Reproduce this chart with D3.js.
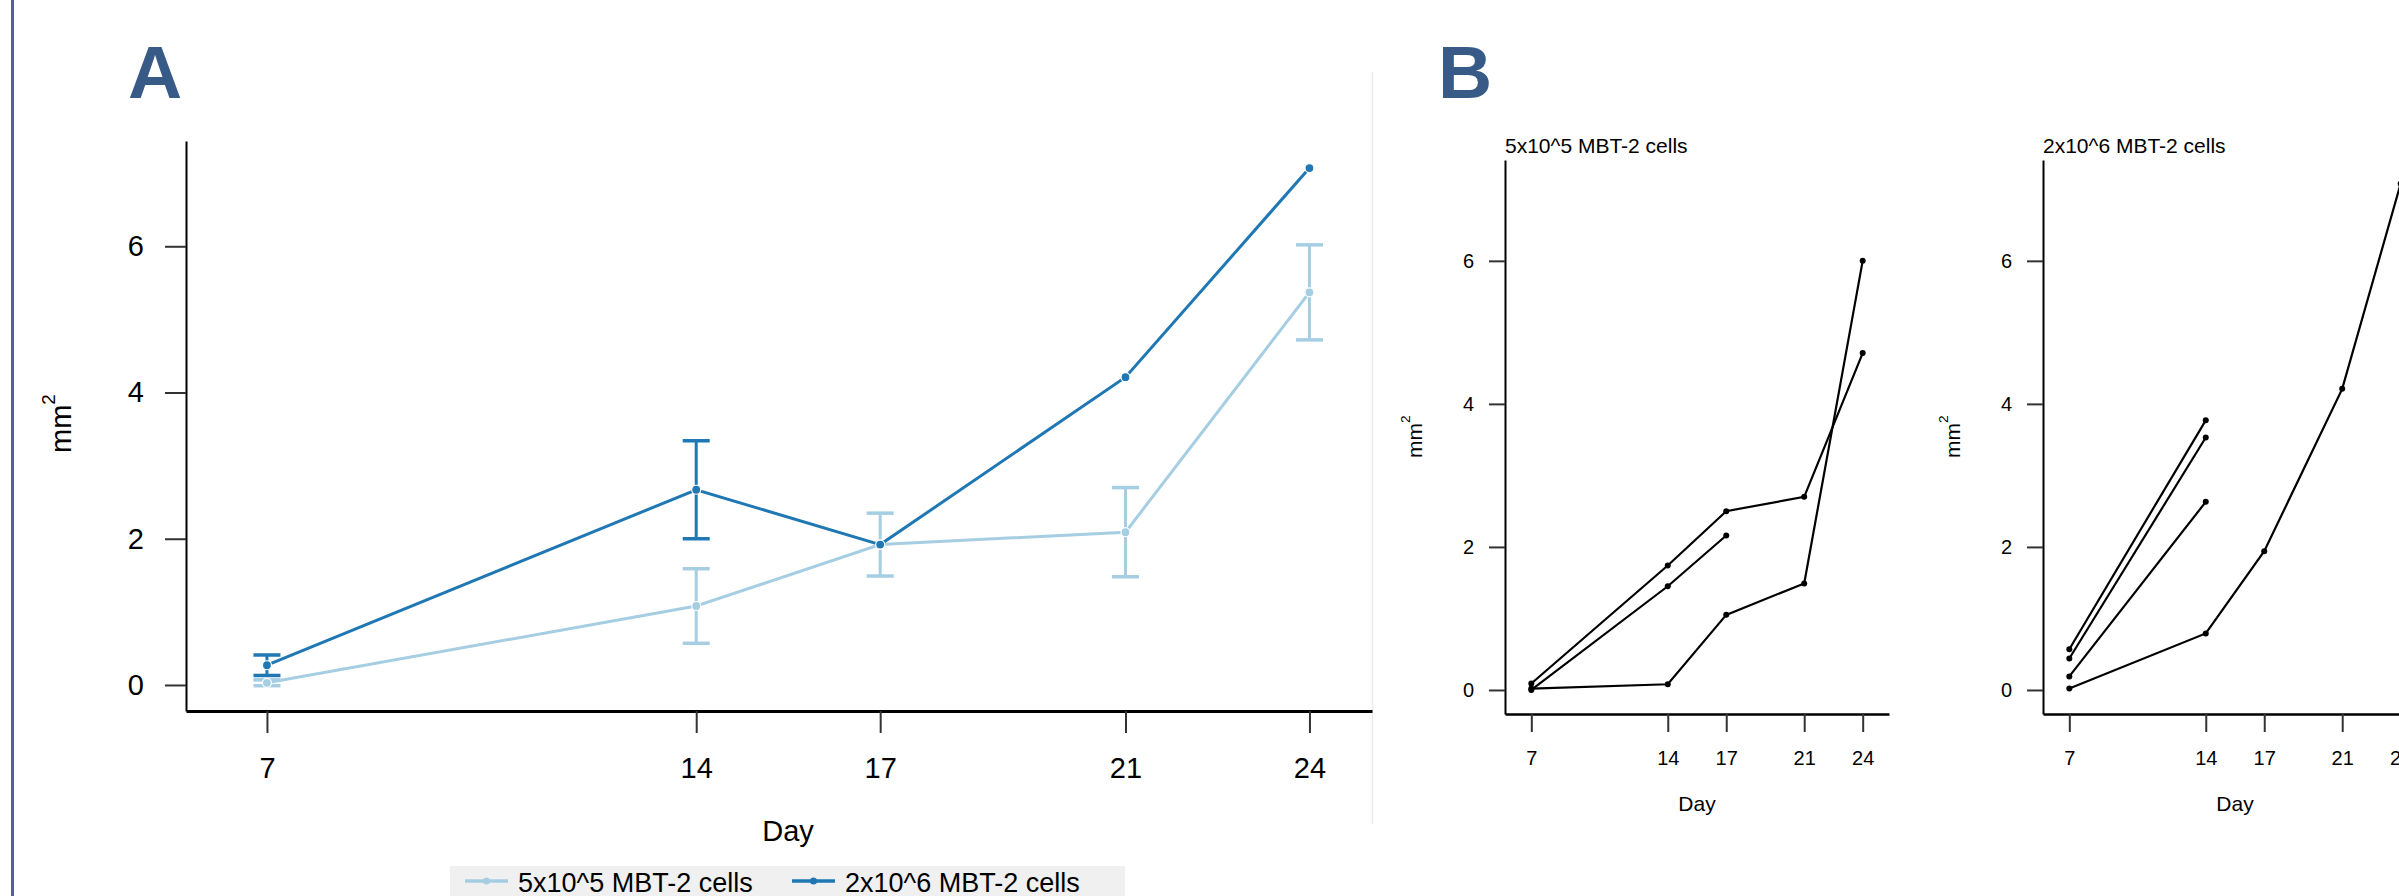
<html>
<meta charset="utf-8">
<style>
body { margin: 0; background: #fff; }
text { font-family: "Liberation Sans", Arial, sans-serif; fill: #000; }
.domain { stroke: #000; }
.tick line { stroke: #333; stroke-width: 2px; }
</style>
<body>
<script src="https://d3js.org/d3.v7.min.js"></script>
<script>

// data
var days = [7, 14, 17, 21, 24];
var areaTicks = [0, 2, 4, 6];
var groups = ["5x10^5 MBT-2 cells", "2x10^6 MBT-2 cells"];

// panel A: means and error bars
var lowMean  = [0.03, 1.08, 1.92, 2.09, 5.37];
var lowErr   = [0.04, 0.51, 0.43, 0.61, 0.65];
var highMean = [0.27, 2.67, 1.92, 4.21, 7.07];
var highErr  = [0.14, 0.67, 0, 0, 0];

// panel B: single animals (null = not measured)
var lowMouse1 = [0.09, 1.74, 2.50, 2.70, 4.71];
var lowMouse2 = [0.00, 1.45, 2.16, null, null];
var lowMouse3 = [0.02, 0.08, 1.05, 1.49, 6.00];
var highMouse1 = [0.57, 3.77, null, null, null];
var highMouse2 = [0.44, 3.53, null, null, null];
var highMouse3 = [0.19, 2.63, null, null, null];
var highMouse4 = [0.02, 0.79, 1.94, 4.21, 7.08];

var colors = ["#a6cee3", "#1f78b4"];

var svg = d3.select("body").append("svg")
    .attr("width", 2399)
    .attr("height", 896);

svg.append("rect").attr("width", 2399).attr("height", 896).attr("fill", "#fff");

// left page border and divider
svg.append("line").attr("x1", 12.5).attr("x2", 12.5).attr("y1", 0).attr("y2", 896)
    .attr("stroke", "#47669d").attr("stroke-width", 3);
svg.append("line").attr("x1", 1372.5).attr("x2", 1372.5).attr("y1", 72).attr("y2", 824)
    .attr("stroke", "#ebebeb").attr("stroke-width", 1.5);

// panel letters
svg.append("text").attr("x", 128).attr("y", 98).text("A")
    .style("font-size", "75px").style("font-weight", "bold").style("fill", "#375a87");
svg.append("text").attr("x", 1438).attr("y", 98).text("B")
    .style("font-size", "75px").style("font-weight", "bold").style("fill", "#375a87");

function pairs(vals) {
  return days.map(function(d, i) { return {day: d, v: vals[i], i: i}; })
             .filter(function(p) { return p.v !== null; });
}

function yLabel(g, x, y, size) {
  var t = g.append("text")
      .attr("transform", "translate(" + x + "," + y + ") rotate(-90)")
      .style("font-size", size + "px");
  t.append("tspan").text("mm");
  t.append("tspan").attr("dy", -size * 0.55).style("font-size", (size * 0.65) + "px").text("2");
}

// ---------------- panel A ----------------
var xA = d3.scaleLinear().domain([5.68, 25.02]).range([186, 1372]);
var yA = d3.scaleLinear().domain([-0.356, 7.44]).range([711, 141]);

var axA = svg.append("g")
    .attr("transform", "translate(0,711)")
    .call(d3.axisBottom(xA).tickValues(days).tickSize(22).tickSizeOuter(0).tickPadding(24));
axA.select(".domain").attr("stroke-width", 3);
axA.selectAll("text").style("font-size", "29px");

var ayA = svg.append("g")
    .attr("transform", "translate(186,0)")
    .call(d3.axisLeft(yA).tickValues(areaTicks).tickSize(21).tickSizeOuter(0).tickPadding(21));
ayA.select(".domain").attr("stroke-width", 2);
ayA.selectAll("text").style("font-size", "29px");

svg.append("text").attr("x", 788).attr("y", 841).attr("text-anchor", "middle")
    .style("font-size", "29px").text("Day");
yLabel(svg, 71, 453, 29);

var lineA = d3.line()
    .x(function(d) { return xA(d.day); })
    .y(function(d) { return yA(d.v); });

[[lowMean, lowErr], [highMean, highErr]].forEach(function(s, k) {
  var pts = pairs(s[0]);
  var col = colors[k];
  var g = svg.append("g");
  g.append("path").datum(pts).attr("d", lineA)
      .attr("fill", "none").attr("stroke", col).attr("stroke-width", 3);
  pts.forEach(function(p) {
    var e = s[1][p.i];
    if (!e) return;
    var x = xA(p.day);
    g.append("line").attr("x1", x).attr("x2", x).attr("y1", yA(p.v - e)).attr("y2", yA(p.v + e))
        .attr("stroke", col).attr("stroke-width", 3);
    [p.v - e, p.v + e].forEach(function(v) {
      g.append("line").attr("x1", x - 13.5).attr("x2", x + 13.5).attr("y1", yA(v)).attr("y2", yA(v))
          .attr("stroke", col).attr("stroke-width", 3.5);
    });
  });
  g.selectAll("circle").data(pts).enter().append("circle")
      .attr("cx", function(d) { return xA(d.day); })
      .attr("cy", function(d) { return yA(d.v); })
      .attr("r", 4.5)
      .attr("fill", col).attr("stroke", "#fff").attr("stroke-width", 1.2);
});

// legend
svg.append("rect").attr("x", 450).attr("y", 866).attr("width", 675).attr("height", 40).attr("fill", "#f0f0f0");
var legX = [465, 792];
groups.forEach(function(name, k) {
  svg.append("line").attr("x1", legX[k]).attr("x2", legX[k] + 43).attr("y1", 881).attr("y2", 881)
      .attr("stroke", colors[k]).attr("stroke-width", 3.5);
  svg.append("circle").attr("cx", legX[k] + 21.5).attr("cy", 881).attr("r", 3.5).attr("fill", colors[k]);
  svg.append("text").attr("x", legX[k] + 53).attr("y", 892).style("font-size", "27px").text(name);
});

// ---------------- panel B ----------------
var yB = d3.scaleLinear().domain([-0.336, 7.41]).range([714, 160]);
var panelsB = [
  {left: 1505, title: groups[0], mice: [lowMouse1, lowMouse2, lowMouse3]},
  {left: 2043, title: groups[1], mice: [highMouse1, highMouse2, highMouse3, highMouse4]}
];

panelsB.forEach(function(pb) {
  var x = d3.scaleLinear().domain([5.65, 25.35]).range([pb.left, pb.left + 384]);
  var ax = svg.append("g")
      .attr("transform", "translate(0,714)")
      .call(d3.axisBottom(x).tickValues(days).tickSize(18).tickSizeOuter(0).tickPadding(19));
  ax.select(".domain").attr("stroke-width", 2.5);
  ax.selectAll("text").style("font-size", "20px");

  var ay = svg.append("g")
      .attr("transform", "translate(" + pb.left + ",0)")
      .call(d3.axisLeft(yB).tickValues(areaTicks).tickSize(16).tickSizeOuter(0).tickPadding(15));
  ay.select(".domain").attr("stroke-width", 2);
  ay.selectAll("text").style("font-size", "20px");

  svg.append("text").attr("x", pb.left).attr("y", 153).style("font-size", "21px").text(pb.title);
  svg.append("text").attr("x", pb.left + 192).attr("y", 811).attr("text-anchor", "middle")
      .style("font-size", "21px").text("Day");
  yLabel(svg, pb.left - 83, 458, 21);

  var line = d3.line()
      .x(function(d) { return x(d.day); })
      .y(function(d) { return yB(d.v); });

  pb.mice.forEach(function(m) {
    var pts = pairs(m);
    svg.append("path").datum(pts).attr("d", line)
        .attr("fill", "none").attr("stroke", "#000").attr("stroke-width", 2.2);
    svg.append("g").selectAll("circle").data(pts).enter().append("circle")
        .attr("cx", function(d) { return x(d.day); })
        .attr("cy", function(d) { return yB(d.v); })
        .attr("r", 3).attr("fill", "#000");
  });
});

</script>
</body>
</html>
